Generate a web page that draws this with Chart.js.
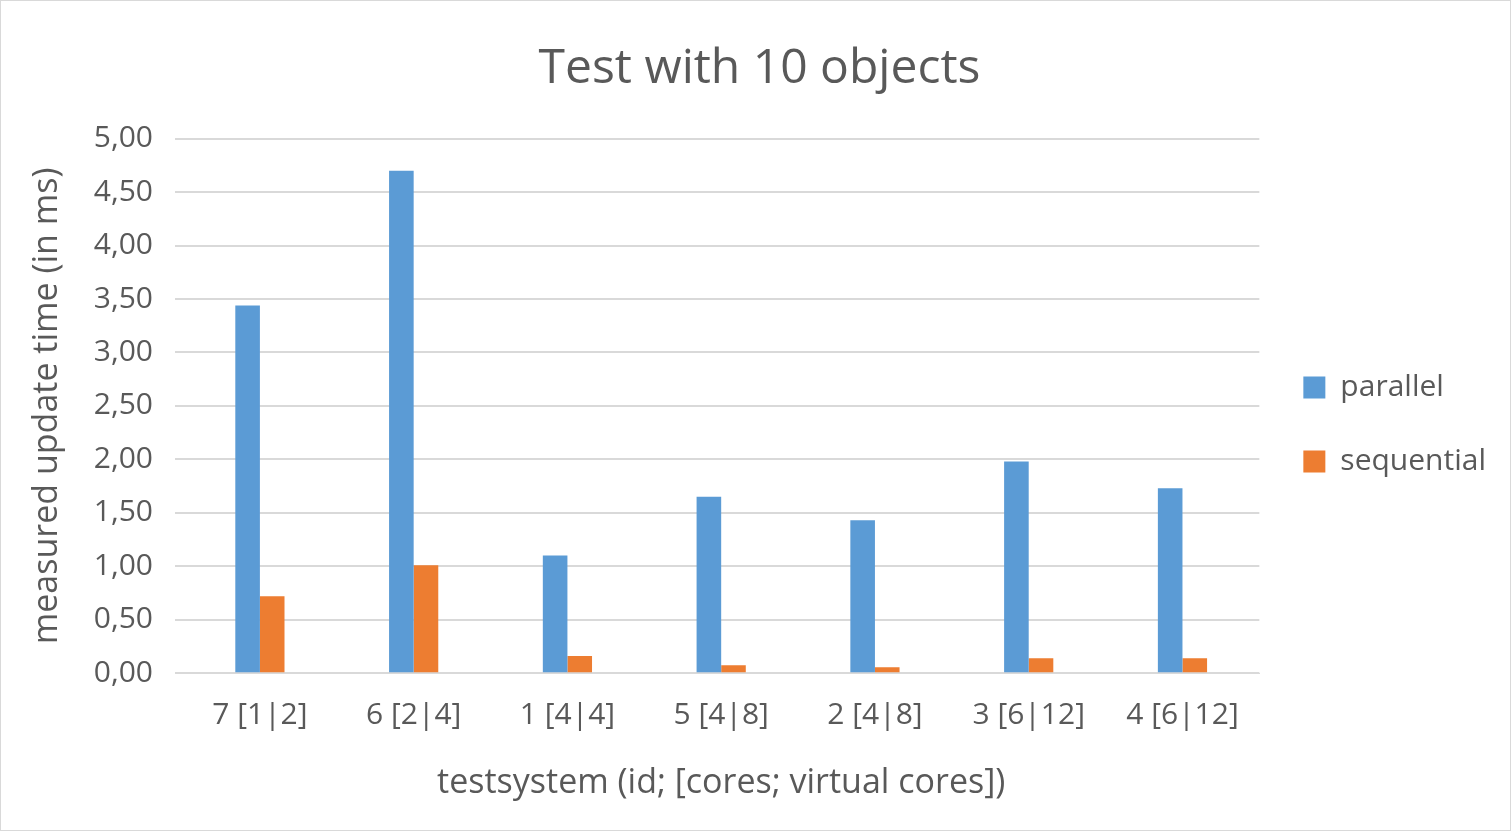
<!DOCTYPE html>
<html><head><meta charset="utf-8">
<script src="https://cdn.jsdelivr.net/npm/chart.js@4/dist/chart.umd.min.js"></script>
<style>
html,body{margin:0;padding:0;background:#fff;}
#wrap{position:absolute;left:0;top:0;width:1509px;height:829px;border:1px solid #d9d9d9;}
</style></head><body>
<div id="wrap"><canvas id="c"></canvas></div>
<script>
const categories=["7 [1|2]","6 [2|4]","1 [4|4]","5 [4|8]","2 [4|8]","3 [6|12]","4 [6|12]"];
const parallel=[3.44,4.70,1.10,1.65,1.43,1.98,1.73];
const sequential=[0.72,1.01,0.16,0.075,0.056,0.14,0.14];
const F="'Open Sans', 'Liberation Sans', sans-serif";
const txt="#595959";
new Chart(document.getElementById('c'),{
 type:'bar',
 data:{labels:categories,datasets:[
  {label:'parallel',data:parallel,backgroundColor:'#5B9BD5',barPercentage:1,categoryPercentage:0.32},
  {label:'sequential',data:sequential,backgroundColor:'#ED7D31',barPercentage:1,categoryPercentage:0.32}
 ]},
 options:{responsive:true,maintainAspectRatio:false,animation:false,
  layout:{padding:{left:22,right:14,top:40,bottom:22}},
  plugins:{
   title:{display:true,text:'Test with 10 objects',color:txt,font:{family:F,size:48,weight:'normal'},padding:{top:0,bottom:40}},
   legend:{position:'right',labels:{color:txt,font:{family:F,size:30},boxWidth:22,boxHeight:22,padding:44}},
   tooltip:{enabled:false}
  },
  scales:{
   x:{grid:{display:false},border:{color:'#d9d9d9'},ticks:{color:txt,font:{family:F,size:30},padding:16,maxRotation:0},
      title:{display:true,text:'testsystem (id; [cores; virtual cores])',color:txt,font:{family:F,size:34},padding:{top:14}}},
   y:{min:0,max:5,grid:{color:'#d9d9d9',lineWidth:2},border:{display:false},
      ticks:{stepSize:0.5,color:txt,font:{family:F,size:30},padding:22,callback:v=>v.toFixed(2).replace('.',',')},
      title:{display:true,text:'measured update time (in ms)',color:txt,font:{family:F,size:34}}}
  }
 }
});
</script></body></html>
